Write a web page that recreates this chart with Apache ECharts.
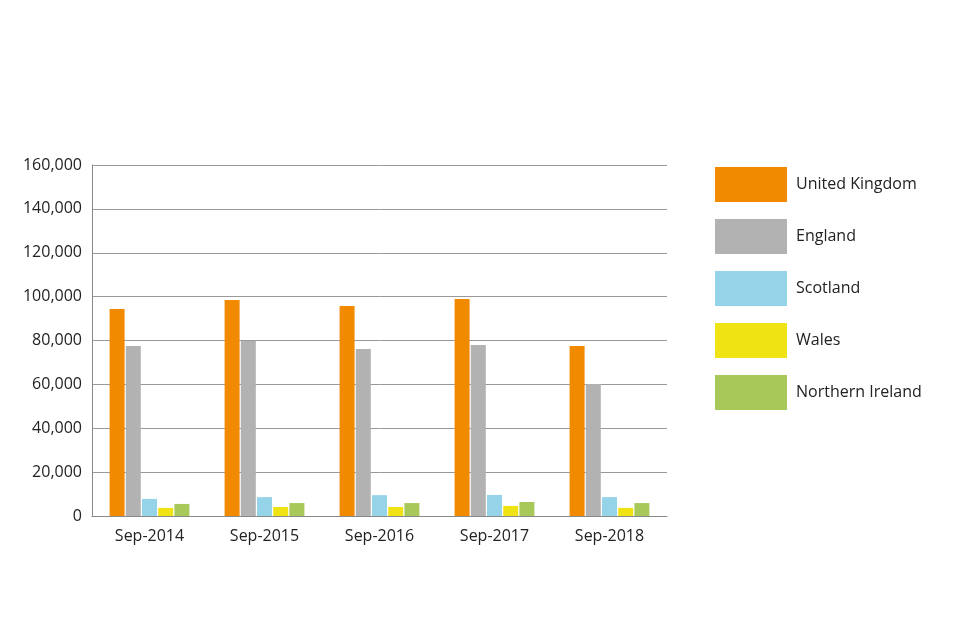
<!DOCTYPE html>
<html><head><meta charset="utf-8">
<script src="https://cdn.jsdelivr.net/npm/echarts@6/dist/echarts.min.js"></script>
<style>html,body{margin:0;padding:0;background:#fff}#c{width:960px;height:640px}</style>
</head><body><div id="c"></div>
<script>
const categories = ['Sep-2014','Sep-2015','Sep-2016','Sep-2017','Sep-2018'];
const seriesNames = ['United Kingdom','England','Scotland','Wales','Northern Ireland'];
const colors = ['#f28a00','#b2b2b2','#94d3e8','#f0e314','#a8c85a'];
const ukValues = [94400, 98500, 95700, 98900, 77500];
const englandValues = [77500, 79800, 76100, 78000, 60200];
const scotlandValues = [7800, 8600, 9500, 9600, 8600];
const walesValues = [3700, 4100, 4100, 4600, 3700];
const niValues = [5500, 5900, 5900, 6400, 5900];
const values = [ukValues, englandValues, scotlandValues, walesValues, niValues];
const chart = echarts.init(document.getElementById('c'));
const font = 'Open Sans';
chart.setOption({
  animation:false,
  textStyle:{fontFamily:font},
  grid:{left:92,right:293,top:165,bottom:124},
  legend:{orient:'vertical',left:710,top:162,itemWidth:72,itemHeight:35,itemGap:17,icon:'rect',
    textStyle:{fontSize:16,color:'#222',fontFamily:font,padding:[0,0,0,4]},data:seriesNames},
  xAxis:{type:'category',data:categories,
    axisLine:{lineStyle:{color:'#888'}},axisTick:{show:false},
    axisLabel:{fontSize:16,color:'#222',margin:12}},
  yAxis:{type:'value',min:0,max:160000,interval:20000,
    axisLine:{show:true,lineStyle:{color:'#888'}},axisTick:{show:false},
    splitLine:{lineStyle:{color:'#999'}},
    axisLabel:{fontSize:16,color:'#222',margin:10,formatter:v=>v.toLocaleString('en-US')}},
  series: seriesNames.map((n,i)=>({name:n,type:'bar',data:values[i],barWidth:15,barGap:'8%',
    itemStyle:{color:colors[i]}}))
});
</script></body></html>
